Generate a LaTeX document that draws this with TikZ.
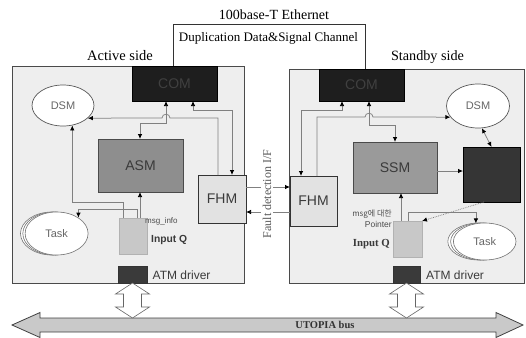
\documentclass[tikz,border=0pt]{standalone}
\usepackage{fontspec}
\setmainfont{Liberation Serif}
\setsansfont{Liberation Sans}
\newfontfamily\krfont{Noto Sans CJK KR}
\usetikzlibrary{arrows.meta,shapes.geometric}
\definecolor{panelfill}{HTML}{EEEEEE}
\definecolor{panelline}{HTML}{4A4A4A}
\definecolor{linegray}{HTML}{808080}
\definecolor{comfill}{HTML}{1E1E1E}
\definecolor{comtext}{HTML}{404040}
\definecolor{asmfill}{HTML}{8E8E8E}
\definecolor{ssmfill}{HTML}{9A9A9A}
\definecolor{fhmfill}{HTML}{E2E2E2}
\definecolor{qfill}{HTML}{C8C8C8}
\definecolor{atmfill}{HTML}{3A3A3A}
\definecolor{busfill}{HTML}{C9C9C9}
\definecolor{txtgray}{HTML}{3A3A3A}
\begin{document}
\begin{tikzpicture}[x=1pt,y=-1pt,
  >={Latex[length=5pt,width=4.5pt,color=black]},
  box/.style={draw, inner sep=0pt, outer sep=0pt, anchor=north west},
  panel/.style={box, fill=panelfill, draw=panelline, line width=0.9pt},
  combox/.style={box, fill=comfill, draw=black, text=comtext, font=\sffamily\fontsize{14}{14}\selectfont},
  smbox/.style={box, draw=panelline, line width=0.6pt, text=txtgray, font=\sffamily\fontsize{14}{14}\selectfont},
  fhmbox/.style={box, fill=fhmfill, draw=black!80, line width=0.9pt, text=txtgray, font=\sffamily\fontsize{14}{14}\selectfont},
  qbox/.style={box, fill=qfill, draw=black!30, line width=0.5pt},
  atmbox/.style={box, fill=atmfill, draw=black!80, line width=0.5pt},
  dsm/.style={ellipse, draw=black!65, fill=white, line width=0.7pt, inner sep=0pt, text=black!60, font=\sffamily\fontsize{11}{11}\selectfont},
  taskell/.style={ellipse, draw=black!55, fill=white, line width=0.6pt, inner sep=0pt, text=black!60, font=\sffamily\fontsize{11}{11}\selectfont},
  conn/.style={draw=linegray, line width=0.75pt},
  eth/.style={draw=black!80, line width=0.8pt},
  hollow/.style={draw=black!60, fill=white, line width=0.6pt},
  bus/.style={draw=black!75, fill=busfill, line width=0.8pt},
  serif/.style={inner sep=0pt, font=\fontsize{#1}{#1}\selectfont}
]
\useasboundingbox (0,0) rectangle (526,337);

% panels
\node[panel, minimum width=232pt, minimum height=217pt] (lp) at (12,66) {};
\node[panel, minimum width=235pt, minimum height=214pt] (rp) at (289,69) {};

% titles
\node[serif=14] (eth100) at (274,15) {100base-T Ethernet};
\node[serif=13] (dup) at (268.5,38) {Duplication Data\&Signal Channel};
\node[serif=14.5] (act) at (120,56) {Active side};
\node[serif=14.2] (stb) at (427.5,57) {Standby side};

% left side
\node[combox, minimum width=85pt, minimum height=35pt] (lcom) at (132,66) {COM};
\node[dsm, minimum width=62pt, minimum height=41pt] (ldsm) at (63,105.5) {DSM};
\node[smbox, fill=asmfill, minimum width=85pt, minimum height=53pt] (asm) at (98,139) {ASM};
\node[fhmbox, minimum width=48pt, minimum height=48pt] (lfhm) at (198,175) {FHM};
\node[qbox, minimum width=28pt, minimum height=36pt] (lq) at (119,218) {};
\node[atmbox, minimum width=29pt, minimum height=17pt] (latm) at (118,266) {};
\node[taskell, minimum width=63pt, minimum height=43pt] (ltaskb1) at (52,233.5) {};
\node[taskell, minimum width=63pt, minimum height=43pt] (ltaskb2) at (54.3,233.5) {};
\node[taskell, minimum width=63pt, minimum height=43pt] (ltask) at (56.6,233.5) {Task};
\node[anchor=west, inner sep=0pt, text=txtgray, font=\sffamily\bfseries\fontsize{10.3}{10.3}\selectfont] (lqlab) at (151,240) {Input Q};
\node[anchor=west, inner sep=0pt, text=black!70, font=\sffamily\fontsize{8}{8}\selectfont] (msginfo) at (145,221.5) {msg\_info};
\node[anchor=west, inner sep=0pt, text=txtgray, font=\sffamily\fontsize{12}{12}\selectfont] (latmlab) at (152.5,275) {ATM driver};

% right side
\node[combox, minimum width=85pt, minimum height=32pt] (rcom) at (319,69) {COM};
\node[dsm, minimum width=63pt, minimum height=44pt] (rdsm) at (478,106) {DSM};
\node[smbox, fill=ssmfill, minimum width=84pt, minimum height=51pt] (ssm) at (353,142) {SSM};
\node[box, fill=comfill!90!white, draw=black, minimum width=57pt, minimum height=55pt] (rdark) at (463,147) {};
\node[fhmbox, minimum width=47pt, minimum height=50pt] (rfhm) at (290,176) {FHM};
\node[qbox, minimum width=29pt, minimum height=36pt] (rq) at (393,221) {};
\node[atmbox, minimum width=27pt, minimum height=17pt] (ratm) at (393,266) {};
\node[taskell, minimum width=62.6pt, minimum height=37pt] (rtaskb1) at (479.1,241.5) {};
\node[taskell, minimum width=62.6pt, minimum height=37pt] (rtaskb2) at (481.9,241.5) {};
\node[taskell, minimum width=62.6pt, minimum height=37pt] (rtask) at (484.7,241.5) {Task};
\node[anchor=east, inner sep=0pt, text=black!70, font=\krfont\fontsize{8}{8}\selectfont] (msgkr) at (392,214.5) {msg에 대한};
\node[anchor=east, inner sep=0pt, text=black!70, font=\sffamily\fontsize{8.5}{8.5}\selectfont] (ptr) at (392,224) {Pointer};
\node[anchor=east, inner sep=0pt, text=txtgray, font=\bfseries\fontsize{10.8}{10.8}\selectfont] (rqlab) at (390,244) {Input Q};
\node[anchor=west, inner sep=0pt, text=txtgray, font=\sffamily\fontsize{12}{12}\selectfont] (ratmlab) at (426,275) {ATM driver};

% ethernet channel
\draw[eth] (lcom.north -| 173,0) |- (365,24) -- (rcom.north -| 365,0);

% left connectors
\draw[conn,<->] (lcom.south -| 193,0) |- (232,110) -- (lfhm.north -| 232,0);
\draw[conn,->] (lfhm.north -| 218,0) -- (218,118) -- (170,118) .. controls (170,113) and (162,113) .. (162,118) -- (ldsm.-27);
\draw[conn,<->] (lcom.south -| 166,0) |- (140,123) -- (asm.north -| 140,0);
\draw[conn,->] (lq.north -| 123,0) -- (123,202) -| (ldsm.-65);
\draw[conn,->] (lq.north -| 137,0) -- (137,209) -| (ltask.36);
\draw[conn,->] (lq.north -| 140,0) -- (asm.south -| 140,0);

% right connectors
\draw[conn,<->] (rcom.south -| 342,0) |- (301,110) -- (rfhm.north -| 301,0);
\draw[conn,->] (rfhm.north -| 317,0) -- (317,117) -- (365,117) .. controls (365,112) and (373,112) .. (373,117) -- (rdsm.202);
\draw[conn,<->] (rcom.south -| 369,0) |- (395,125) -- (ssm.north -| 395,0);
\draw[conn,->] (ssm.east |- 0,171) -- (rdark.west |- 0,171);
\draw[conn,<->] (rdsm.-80) -- (rdark.north);
\draw[conn,densely dotted,->] (rdark.south -| 484,0) -- (rq.north east);
\draw[conn,->] (rq.north -| 408,0) -- (408,212) -| (rtask.116);
\draw[conn,->] (rq.north -| 401,0) -- (ssm.south -| 401,0);

% fault detection interface
\draw[conn,->] (lfhm.east |- 0,187) -- (rfhm.west |- 0,187);
\draw[conn,->] (rfhm.west |- 0,212) -- (lfhm.east |- 0,212);
\node[rotate=90, fill=white, inner sep=1.5pt, font=\fontsize{12}{12}\selectfont, text=black!65] (fdi) at (267,194) {Fault detection I/F};

% UTOPIA bus
\draw[bus] (12,325) -- (40,312.5) -- (40,318) -- (496,318) -- (496,312.5) -- (523,325) -- (496,337.5) -- (496,332) -- (40,332) -- (40,337.5) -- cycle;
\node[inner sep=0pt, text=black!80, font=\bfseries\fontsize{10.5}{10.5}\selectfont] (utopia) at (325,325) {UTOPIA bus};

% hollow double arrows
\draw[hollow] (latm.south) -- ++(17,11) -- ++(-8,0) -- ++(0,13) -- ++(8,0) -- ++(-17,11) -- ++(-17,-11) -- ++(8,0) -- ++(0,-13) -- ++(-8,0) -- cycle;
\draw[hollow] (ratm.south) -- ++(17,11) -- ++(-8,0) -- ++(0,13) -- ++(8,0) -- ++(-17,11) -- ++(-17,-11) -- ++(8,0) -- ++(0,-13) -- ++(-8,0) -- cycle;
\end{tikzpicture}
\end{document}
